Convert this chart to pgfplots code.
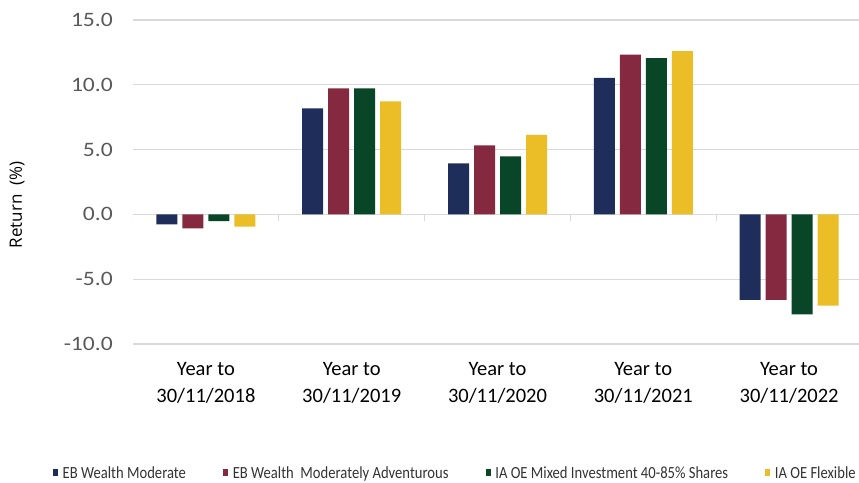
\documentclass[border=0pt]{standalone}
\usepackage{pgfplots}
\pgfplotsset{compat=1.18}
\usepackage{fontspec}
\setmainfont{Carlito}
\newfontfamily\widefont{Carlito}[FakeStretch=1.15]
\newfontfamily\condfont{Carlito}[FakeStretch=0.86]
\newfontfamily\osans{Open Sans}
\definecolor{cnavy}{HTML}{1E2D5A}
\definecolor{cmaroon}{HTML}{852940}
\definecolor{cgreen}{HTML}{094527}
\definecolor{cyellow}{HTML}{EBBE27}
\definecolor{cgrid}{HTML}{D9D9D9}
\definecolor{clabel}{HTML}{595959}
\begin{document}
\begin{tikzpicture}
\begin{axis}[
  name=ax,
  scale only axis,
  width=729pt, height=324pt,
  xmin=-0.5, xmax=4.5,
  ymin=-10, ymax=15,
  ytick={-10,-5,0,5,10,15},
  xtick={0,1,2,3,4},
  xticklabels={{Year to\\30/11/2018},{Year to\\30/11/2019},{Year to\\30/11/2020},{Year to\\30/11/2021},{Year to\\30/11/2022}},
  ybar=5pt, bar width=21pt,
  axis line style={draw=none},
  major tick length=0pt,
  ymajorgrids,
  grid style={draw=cgrid, line width=1.2pt},
  /pgf/number format/fixed,
  /pgf/number format/fixed zerofill,
  /pgf/number format/precision=1,
  /pgf/number format/assume math mode=true,
  yticklabel style={font=\widefont\fontsize{20.5}{24}\selectfont, text=clabel, inner sep=0pt, xshift=-20pt},
  xticklabel style={font=\fontsize{20.5}{27}\selectfont, align=center, inner sep=0pt, yshift=-18pt, text=black},
  ylabel={Return\ \ (\%)},
  ylabel style={font=\osans\fontsize{17}{20}\selectfont, at={(axis description cs:-0.159,0.429)}, anchor=center},
  legend columns=4,
  legend style={at={(axis description cs:-0.1101,-0.398)}, anchor=west, draw=none, fill=none, inner sep=0pt,
    font=\condfont\fontsize{17}{19}\selectfont, text=black!80,
    /tikz/every odd column/.append style={column sep=2.5pt},
    /tikz/every even column/.append style={column sep=35pt}},
  legend cell align=left,
  legend image code/.code={\fill[#1] (0pt,-3.5pt) rectangle (5.3pt,3.5pt);},
]
\addplot[fill=cnavy, draw=none] coordinates {(0,-0.77) (1,8.19) (2,3.94) (3,10.54) (4,-6.60)};
\addplot[fill=cmaroon, draw=none] coordinates {(0,-1.08) (1,9.73) (2,5.32) (3,12.33) (4,-6.60)};
\addplot[fill=cgreen, draw=none] coordinates {(0,-0.52) (1,9.73) (2,4.47) (3,12.05) (4,-7.72)};
\addplot[fill=cyellow, draw=none] coordinates {(0,-0.95) (1,8.73) (2,6.14) (3,12.60) (4,-7.03)};
\legend{EB Wealth Moderate, EB Wealth\ \ Moderately Adventurous, IA OE Mixed Investment 40-85\% Shares, IA OE Flexible Investment}
\draw[cgrid, line width=1pt] (axis cs:-0.5,0) -- ++(0pt,-7pt);
\draw[cgrid, line width=1pt] (axis cs:0.5,0) -- ++(0pt,-7pt);
\draw[cgrid, line width=1pt] (axis cs:1.5,0) -- ++(0pt,-7pt);
\draw[cgrid, line width=1pt] (axis cs:2.5,0) -- ++(0pt,-7pt);
\draw[cgrid, line width=1pt] (axis cs:3.5,0) -- ++(0pt,-7pt);
\end{axis}
\pgfresetboundingbox
\path ([shift={(-133pt,-139pt)}]ax.south west) rectangle ([shift={(-3pt,20pt)}]ax.north east);
\end{tikzpicture}
\end{document}
